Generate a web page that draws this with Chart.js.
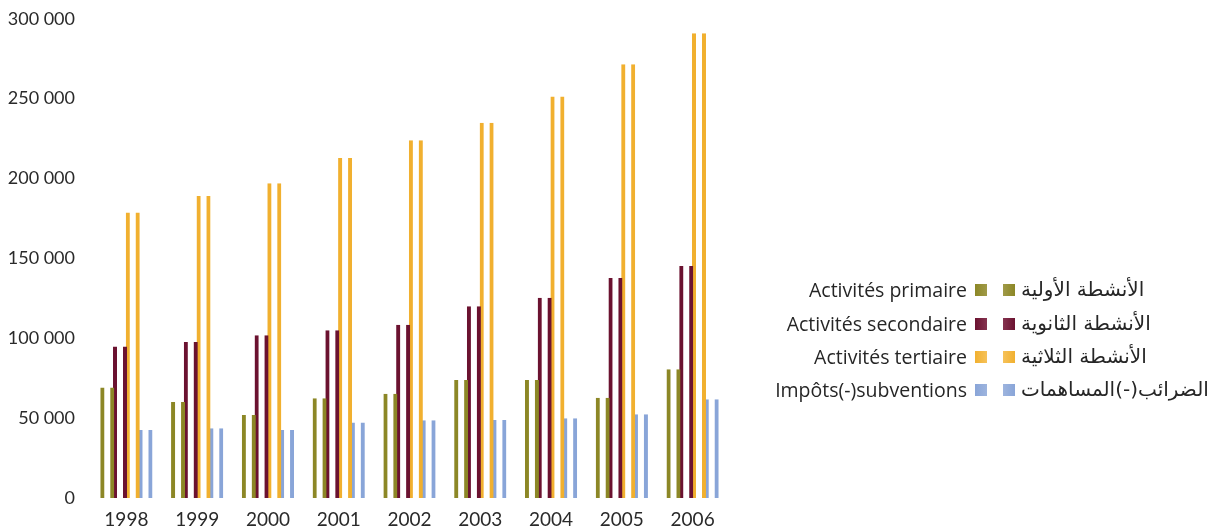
<!DOCTYPE html>
<html>
<head>
<meta charset="utf-8">
<script src="https://cdn.jsdelivr.net/npm/chart.js@4.4.0/dist/chart.umd.min.js"></script>
<style>
  html, body { margin: 0; padding: 0; background: #fff; }
  body { width: 1213px; height: 530px; position: relative; overflow: hidden; font-family: "Open Sans", sans-serif; }
  #wrap { position: absolute; left: 0; top: 0; width: 740px; height: 530px; }
  .row { position: absolute; left: 0; width: 1213px; height: 26px; }
  .fr { position: absolute; right: 246px; top: 0; font-size: 19.5px; line-height: 26px; color: #262626; white-space: nowrap; font-family: "Open Sans", sans-serif; }
  .ar { position: absolute; left: 1021px; top: -1px; font-size: 20px; line-height: 26px; color: #262626; white-space: nowrap; direction: rtl; font-family: "DejaVu Sans", sans-serif; }
  .sw { position: absolute; top: 7px; width: 12px; height: 12px; }
  .sw1 { left: 975px; }
  .sw2 { left: 1003px; }
</style>
</head>
<body>
<div id="wrap"><canvas id="c"></canvas></div>
<div id="legend"></div>
<script>
const years = ["1998","1999","2000","2001","2002","2003","2004","2005","2006"];
const primaire   = [69100, 60100, 52000, 62400, 65300, 73900, 73900, 62800, 80600];
const secondaire = [94800, 97700, 101900, 105000, 108400, 120100, 125400, 137800, 145300];
const tertiaire  = [178700, 189100, 197100, 212800, 224000, 235000, 251300, 271600, 291000];
const impots     = [42600, 43700, 42600, 47200, 48700, 48900, 49900, 52400, 61800];
const yTicks = [0, 50000, 100000, 150000, 200000, 250000, 300000];

const frLabels = ["Activités primaire", "Activités secondaire", "Activités tertiaire", "Impôts(-)subventions"];
const arLabels = ["الأنشطة الأولية", "الأنشطة الثانوية", "الأنشطة الثلاثية", "الضرائب(-)المساهمات"];
const series = [primaire, secondaire, tertiaire, impots];
const colA = ["#8c8726", "#6b1230", "#f1b02f", "#89a5d8"];
const colB = ["#a09a48", "#85334f", "#f6c25a", "#9db4de"];

// each value is drawn as a pair of thin strokes (left & right edges of a hollow bar)
const datasets = series.map((s, i) => ({
  label: frLabels[i],
  data: s,
  backgroundColor: "rgba(0,0,0,0)",
  borderColor: colA[i],
  borderWidth: { left: 4, right: 4, top: 0, bottom: 0 },
  borderSkipped: false
}));

function fmt(v) { return String(v).replace(/\B(?=(\d{3})+(?!\d))/g, " "); }

new Chart(document.getElementById("c"), {
  type: "bar",
  data: { labels: years, datasets },
  options: {
    responsive: true,
    maintainAspectRatio: false,
    animation: false,
    layout: { padding: { top: 11, right: 12, left: 0, bottom: 0 } },
    plugins: { legend: { display: false }, tooltip: { enabled: false } },
    datasets: { bar: { categoryPercentage: 0.72, barPercentage: 1.1 } },
    scales: {
      x: {
        grid: { display: false },
        border: { display: false },
        ticks: { color: "#2a2a2a", font: { family: "Lato", size: 19 }, padding: 2 },
        afterFit: (s) => { s.height = 32; }
      },
      y: {
        min: 0, max: 300000,
        afterBuildTicks: (s) => { s.ticks = yTicks.map(v => ({ value: v })); },
        grid: { display: false },
        border: { display: false },
        ticks: { color: "#2a2a2a", font: { family: "Lato", size: 18 }, padding: 8, callback: (v) => fmt(v) },
        afterFit: (s) => { s.width = 91; }
      }
    }
  }
});

const legend = document.getElementById("legend");
const rowsY = [277, 311, 344, 377];
frLabels.forEach((t, i) => {
  const r = document.createElement("div");
  r.className = "row";
  r.style.top = rowsY[i] + "px";
  r.innerHTML = '<span class="fr"></span>' +
    '<span class="sw sw1" style="background:linear-gradient(90deg,' + colA[i] + ',' + colB[i] + ')"></span>' +
    '<span class="sw sw2" style="background:linear-gradient(90deg,' + colB[i] + ',' + colA[i] + ')"></span>' +
    '<span class="ar" dir="rtl"></span>';
  r.querySelector(".fr").textContent = t;
  r.querySelector(".ar").textContent = arLabels[i];
  legend.appendChild(r);
});
</script>
</body>
</html>
